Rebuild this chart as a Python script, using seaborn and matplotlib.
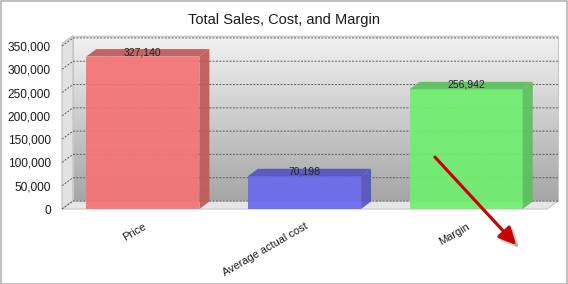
import numpy as np
import pandas as pd
import matplotlib
matplotlib.use("Agg")
import matplotlib.pyplot as plt
import seaborn as sns
from matplotlib.patches import Polygon, Rectangle, FancyArrowPatch
from matplotlib.ticker import FuncFormatter

categories = ["Price", "Average actual cost", "Margin"]
values = [327140, 70198, 256942]
front_colors = ["#f47474", "#6a6aee", "#70ee70"]
side_colors = ["#c05a5a", "#5656c0", "#5cc05c"]
yticks = [0, 50000, 100000, 150000, 200000, 250000, 300000, 350000]
title = "Total Sales, Cost, and Margin"

sns.set_theme(style="white")
plt.rcParams["font.family"] = ["Liberation Sans", "DejaVu Sans"]

W, H = 568, 284
fig = plt.figure(figsize=(W / 100, H / 100), dpi=100)
fig.patch.set_facecolor("white")

left, right, bottom, top = 62, 547, 209, 43.6
ax = fig.add_axes([left / W, (H - bottom) / H, (right - left) / W, (bottom - top) / H])
ymax = 355000
ax.set_xlim(-0.5, 2.5)
ax.set_ylim(0, ymax)
ax.patch.set_alpha(0)

# pixel -> data offsets for depth
dpx, dpy = 11, 8
ddx = dpx * 3.0 / (right - left)
ddy = dpy * ymax / (bottom - top)
bdx = 10 * 3.0 / (right - left)
bdy = 7.5 * ymax / (bottom - top)

# back wall gradient
grad = np.linspace(0, 1, 256).reshape(-1, 1)
cmap = matplotlib.colors.LinearSegmentedColormap.from_list("wall", ["#f2f2f2", "#a6a6a6"])
ax.imshow(grad, extent=(-0.5 + ddx, 2.5 + ddx, ddy, ymax + ddy), aspect="auto",
          cmap=cmap, origin="upper", zorder=0, clip_on=False)
ax.add_patch(Rectangle((-0.5 + ddx, ddy), 3, ymax, fill=False, ec="#c8c8c8", lw=0.8,
                       zorder=0.5, clip_on=False))
# left side wall
ax.add_patch(Polygon([(-0.5, 0), (-0.5 + ddx, ddy), (-0.5 + ddx, ymax + ddy), (-0.5, ymax)],
                     closed=True, fc="#e2e2e2", ec="#c0c0c0", lw=0.8, zorder=0.4, clip_on=False))
# floor
ax.add_patch(Polygon([(-0.5, 0), (2.5, 0), (2.5 + ddx, ddy), (-0.5 + ddx, ddy)],
                     closed=True, fc="#e6e6e6", ec="#c8c8c8", lw=0.8, zorder=0.4, clip_on=False))

# grid lines
for yv in yticks:
    ax.plot([-0.5, -0.5 + ddx, 2.5 + ddx], [yv, yv + ddy, yv + ddy], ls=(0, (2, 1.5)),
            color="#5a5a5a", lw=0.7, zorder=1, clip_on=False)

df = pd.DataFrame({"category": categories, "value": values})
sns.barplot(data=df, x="category", y="value", hue="category", palette=front_colors,
            width=0.7, ax=ax, legend=False, alpha=0.93, zorder=2, saturation=1,
            linewidth=0, edgecolor="none")

bars = sorted([b for c in ax.containers for b in c], key=lambda b: b.get_x())
ax.set_xlim(-0.5, 2.5)
ax.set_ylim(0, ymax)

for i, (patch, v) in enumerate(zip(bars, values)):
    x0 = patch.get_x()
    w = patch.get_width()
    x1 = x0 + w
    # side face
    ax.add_patch(Polygon([(x1, 0), (x1 + bdx, bdy), (x1 + bdx, v + bdy), (x1, v)], closed=True,
                         fc=side_colors[i], ec="none", alpha=0.93, zorder=2.1, clip_on=False))
    # top face
    ax.add_patch(Polygon([(x0, v), (x0 + bdx, v + bdy), (x1 + bdx, v + bdy), (x1, v)], closed=True,
                         fc=side_colors[i], ec="none", alpha=0.93, zorder=2.1, clip_on=False))
    ax.text(x0 + w / 2, v + bdy * 0.6, f"{v:,}", ha="center", va="center",
            fontsize=7.5, color="#222222", zorder=3)

ax.set_xlabel("")
ax.set_ylabel("")
ax.set_yticks(yticks)
ax.yaxis.set_major_formatter(FuncFormatter(lambda v, p: f"{int(v):,}"))
ax.tick_params(axis="y", labelsize=8.6, labelcolor="#1a1a1a", length=0, pad=8)
ax.set_xticks(range(len(categories)))
ax.set_xticklabels(categories, rotation=30, ha="right", rotation_mode="anchor",
                   fontsize=7.9, color="#1a1a1a")
ax.tick_params(axis="x", length=0, pad=9)
for s in ax.spines.values():
    s.set_visible(False)

fig.text(284 / W, 1 - 20 / H, title, ha="center", va="center", fontsize=10.5, color="#1a1a1a")

# red arrow with shadow
for off, col, z in [((3, -3), "#9a9a9a", 4), ((0, 0), "#cc0000", 5)]:
    arr = FancyArrowPatch(((433 + off[0]) / W, 1 - (155 - off[1]) / H),
                          ((518 + off[0]) / W, 1 - (247 - off[1]) / H),
                          transform=fig.transFigure, arrowstyle="-|>,head_length=6.5,head_width=3.2",
                          mutation_scale=1.6, lw=2.2, color=col, zorder=z, alpha=0.5 if z == 4 else 1)
    fig.add_artist(arr)

# figure border
fig.add_artist(Rectangle((0.5 / W, 0.5 / H), 1 - 1.5 / W, 1 - 1.5 / H, transform=fig.transFigure,
                         fill=False, ec="#b4b4b4", lw=1.2))

fig.savefig("out.png", dpi=100)
